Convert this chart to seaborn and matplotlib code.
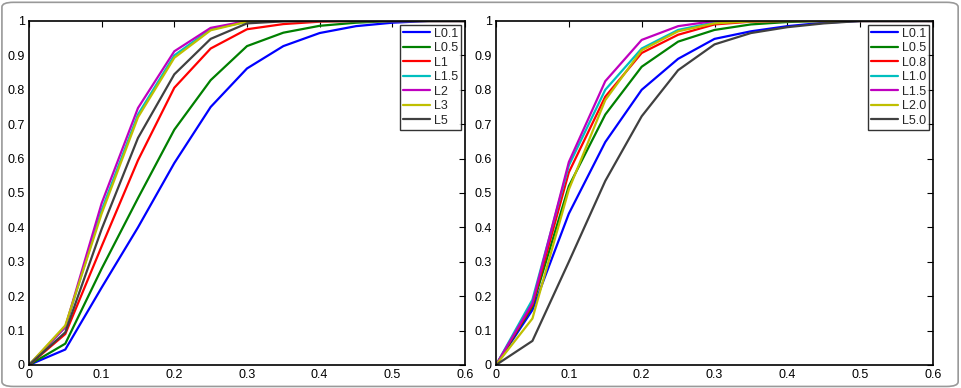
import numpy as np
import pandas as pd
import seaborn as sns
import matplotlib.pyplot as plt
from matplotlib.patches import FancyBboxPatch

x = [0, 0.05, 0.1, 0.15, 0.2, 0.25, 0.3, 0.35, 0.4, 0.45, 0.5, 0.55, 0.6]

# left panel
left_names = ["L0.1", "L0.5", "L1", "L1.5", "L2", "L3", "L5"]
left_vals = [
    [0, 0.045, 0.225, 0.40, 0.587, 0.750, 0.862, 0.927, 0.965, 0.985, 0.995, 1.0, 1.0],
    [0, 0.062, 0.280, 0.485, 0.684, 0.828, 0.927, 0.966, 0.986, 0.995, 1.0, 1.0, 1.0],
    [0, 0.090, 0.345, 0.595, 0.806, 0.920, 0.976, 0.991, 0.998, 1.0, 1.0, 1.0, 1.0],
    [0, 0.110, 0.450, 0.728, 0.900, 0.976, 0.998, 1.0, 1.0, 1.0, 1.0, 1.0, 1.0],
    [0, 0.110, 0.470, 0.747, 0.912, 0.980, 1.0, 1.0, 1.0, 1.0, 1.0, 1.0, 1.0],
    [0, 0.115, 0.440, 0.720, 0.893, 0.973, 0.998, 1.0, 1.0, 1.0, 1.0, 1.0, 1.0],
    [0, 0.095, 0.395, 0.660, 0.845, 0.948, 0.993, 0.999, 1.0, 1.0, 1.0, 1.0, 1.0],
]

# right panel
right_names = ["L0.1", "L0.5", "L0.8", "L1.0", "L1.5", "L2.0", "L5.0"]
right_vals = [
    [0, 0.160, 0.440, 0.648, 0.800, 0.890, 0.948, 0.970, 0.985, 0.995, 1.0, 1.0, 1.0],
    [0, 0.170, 0.520, 0.728, 0.867, 0.940, 0.974, 0.990, 0.997, 1.0, 1.0, 1.0, 1.0],
    [0, 0.175, 0.560, 0.780, 0.907, 0.960, 0.990, 0.998, 1.0, 1.0, 1.0, 1.0, 1.0],
    [0, 0.190, 0.580, 0.800, 0.920, 0.974, 0.996, 1.0, 1.0, 1.0, 1.0, 1.0, 1.0],
    [0, 0.180, 0.590, 0.825, 0.945, 0.985, 1.0, 1.0, 1.0, 1.0, 1.0, 1.0, 1.0],
    [0, 0.135, 0.510, 0.770, 0.915, 0.970, 0.993, 0.999, 1.0, 1.0, 1.0, 1.0, 1.0],
    [0, 0.070, 0.300, 0.535, 0.723, 0.857, 0.932, 0.965, 0.982, 0.993, 1.0, 1.0, 1.0],
]

colors = [(0, 0, 1), (0, 0.5, 0), (1, 0, 0), (0, 0.75, 0.75),
          (0.75, 0, 0.75), (0.75, 0.75, 0), (0.25, 0.25, 0.25)]

sns.set_style("white")
plt.rcParams['font.family'] = ['Liberation Sans', 'DejaVu Sans']

fig = plt.figure(figsize=(9.62, 3.88), dpi=100)
fig.patches.append(FancyBboxPatch((0.002, 0.004), 0.994, 0.99, boxstyle="round,pad=0,rounding_size=0.012",
                                  transform=fig.transFigure, fill=False, edgecolor="#999999", lw=1.2))

ax1 = fig.add_axes([0.0301, 0.0593, 0.4533, 0.8866])
ax2 = fig.add_axes([0.5156, 0.0593, 0.4543, 0.8866])

for ax, names, vals in [(ax1, left_names, left_vals), (ax2, right_names, right_vals)]:
    rows = []
    for n, v in zip(names, vals):
        for xi, yi in zip(x, v):
            rows.append({"x": xi, "y": yi, "name": n})
    df = pd.DataFrame(rows)
    sns.lineplot(data=df, x="x", y="y", hue="name", hue_order=names,
                 palette=colors, linewidth=1.6, ax=ax, legend=False)
    for n, c in zip(names, colors):
        ax.plot([], [], color=c, lw=1.6, label=n)
    ax.set_xlim(0, 0.6)
    ax.set_ylim(0, 1)
    ax.set_xticks(np.arange(0, 0.61, 0.1))
    ax.set_yticks(np.arange(0, 1.01, 0.1))
    ax.set_xticklabels(["0", "0.1", "0.2", "0.3", "0.4", "0.5", "0.6"])
    ax.set_yticklabels(["0", "0.1", "0.2", "0.3", "0.4", "0.5", "0.6", "0.7", "0.8", "0.9", "1"])
    ax.set_xlabel("")
    ax.set_ylabel("")
    ax.tick_params(direction="in", top=True, right=True, length=4, width=0.8,
                   labelsize=9, colors="black", pad=3)
    for s in ax.spines.values():
        s.set_visible(True)
        s.set_color("black")
        s.set_linewidth(1.2)
    leg = ax.legend(loc="upper right", fontsize=9, frameon=True, fancybox=False,
                    handlelength=2.2, handletextpad=0.3, labelspacing=0.2,
                    borderpad=0.25, borderaxespad=0.3)
    leg.get_frame().set_edgecolor("black")
    leg.get_frame().set_linewidth(1.0)

fig.savefig("out.png", dpi=100)
